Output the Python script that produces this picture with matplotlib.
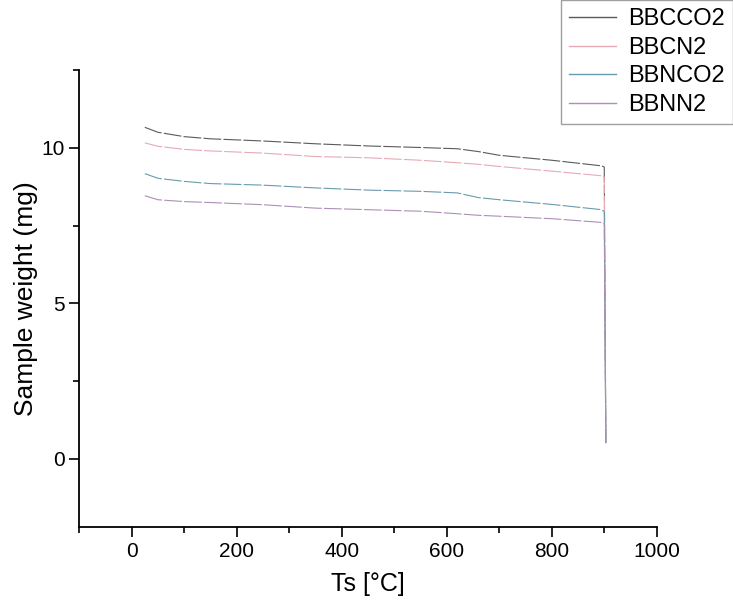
import matplotlib
matplotlib.use("Agg")
import matplotlib.pyplot as plt
from matplotlib.ticker import MultipleLocator
from matplotlib.lines import Line2D

plt.rcParams['font.family'] = ['Liberation Sans', 'DejaVu Sans']

temps = [25, 50, 100, 150, 250, 350, 450, 550, 620, 660, 700, 800, 895, 900, 903]
bbcco2 = [10.66, 10.50, 10.36, 10.29, 10.22, 10.13, 10.06, 10.01, 9.97, 9.88, 9.76, 9.60, 9.42, 9.38, 0.5]
bbcn2 = [10.16, 10.05, 9.95, 9.90, 9.83, 9.72, 9.68, 9.60, 9.52, 9.47, 9.40, 9.25, 9.10, 9.07, 0.5]
bbnco2 = [9.17, 9.02, 8.92, 8.85, 8.80, 8.71, 8.64, 8.60, 8.55, 8.40, 8.33, 8.18, 8.01, 7.95, 0.5]
bbnn2 = [8.46, 8.33, 8.27, 8.24, 8.17, 8.06, 8.01, 7.96, 7.88, 7.83, 7.80, 7.72, 7.60, 7.55, 0.5]

labels = ["BBCCO2", "BBCN2", "BBNCO2", "BBNN2"]
series = [bbcco2, bbcn2, bbnco2, bbnn2]
colors = ["#5a5a5a", "#e6aab4", "#6a9aae", "#ad8fb6"]

fig = plt.figure(figsize=(7.33, 6.15), dpi=100)
ax = fig.add_axes([0.108, 0.143, 0.788, 0.743])

for y, c in zip(series, colors):
    ax.plot(temps, y, color=c, lw=0.8, linestyle=(0, (16, 2)))

ax.set_xlim(-100, 1000)
ax.set_ylim(-2.2, 12.5)
ax.xaxis.set_major_locator(MultipleLocator(200))
ax.xaxis.set_minor_locator(MultipleLocator(100))
ax.yaxis.set_major_locator(MultipleLocator(5))
ax.yaxis.set_minor_locator(MultipleLocator(2.5))
ax.tick_params(which='major', direction='out', length=7, width=1.2, labelsize=15, colors='black')
ax.tick_params(which='minor', direction='out', length=4, width=1.2)
for s in ['top', 'right']:
    ax.spines[s].set_visible(False)
for s in ['left', 'bottom']:
    ax.spines[s].set_linewidth(1.3)

ax.set_xlabel("Ts [°C]", fontsize=18, labelpad=8)
ax.set_ylabel("Sample weight (mg)", fontsize=19, labelpad=2)

handles = [Line2D([], [], color=c, lw=1.0) for c in colors]
leg = fig.legend(handles, labels, loc='upper right', bbox_to_anchor=(1.0, 1.0),
                 fontsize=17, frameon=True, fancybox=False, edgecolor='#888888',
                 handlelength=2.0, labelspacing=0.28, borderpad=0.35, handletextpad=0.5,
                 borderaxespad=0.0)
leg.get_frame().set_linewidth(1.0)

fig.savefig("out.png", dpi=100)
